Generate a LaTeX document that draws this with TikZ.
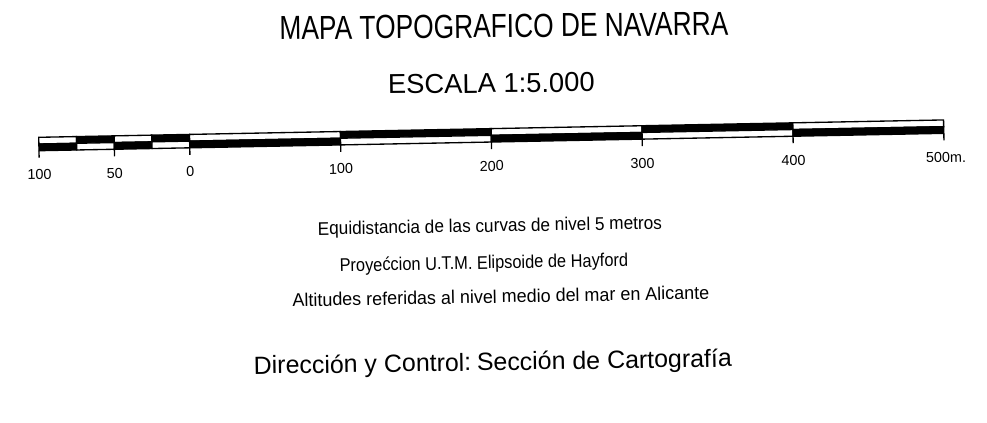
\documentclass[tikz,border=0pt]{standalone}
\usepackage{fontspec}
\setmainfont{Liberation Sans}
\newfontfamily\narrowfont[FakeStretch=0.79]{Liberation Sans}
\newfontfamily\equidfont[FakeStretch=0.935]{Liberation Sans}
\newfontfamily\proyfont[FakeStretch=0.89]{Liberation Sans}
\newfontfamily\altitfont[FakeStretch=0.975]{Liberation Sans}

\tikzset{every picture/.style={line width=0.75pt}}
\tikzset{
  textnode/.style={anchor=base,inner sep=0.75pt},
  scalelabel/.style={anchor=base,inner sep=0.75pt,rotate=1.1,font=\fontsize{10.8}{13}\selectfont}
}

\begin{document}
\begin{tikzpicture}[x=0.75pt,y=0.75pt,yscale=-1,xscale=1]
\useasboundingbox (0,0) rectangle (987,422);

% Text Node
\draw (504,37.5) node [textnode,rotate=0.63,font=\narrowfont\fontsize{25}{30}\selectfont] (title) {MAPA TOPOGRAFICO DE NAVARRA};
% Text Node
\draw (491.5,92.8) node [textnode,rotate=0.65,font=\fontsize{20.5}{24}\selectfont] (escala) {ESCALA 1:5.000};

%Shape: Scale bar
\begin{scope}[shift={(39,150.7)},rotate=-1.1,line width=1pt]
\foreach \xa/\xb/\ct/\cb in {0/37.7/white/black,37.7/75.4/black/white,75.4/113.1/white/black,113.1/150.8/black/white,150.8/301.7/white/black,301.7/452.5/black/white,452.5/603.3/white/black,603.3/754.2/black/white,754.2/905/white/black}{
  \draw[fill=\ct] (\xa,-13.4) rectangle (\xb,-6.7);
  \draw[fill=\cb] (\xa,-6.7) rectangle (\xb,0);
}
%Ticks
\foreach \t in {0,75.4,150.8,301.7,452.5,603.3,754.2,905}
  \draw (\t,0) -- (\t,7);
% Text Node
\foreach \t/\lab [count=\i] in {0/100,75.4/50,150.8/0,301.7/100,452.5/200,603.3/300,754.2/400}
  \draw (\t,29) node [scalelabel] (lbl\i) {\lab};
% Text Node
\draw (885,29) node [scalelabel,anchor=base west] (lblend) {500m.};
\end{scope}

% Text Node
\draw (490,232) node [textnode,rotate=1,font=\equidfont\fontsize{13.8}{16}\selectfont] (equid) {Equidistancia de las curvas de nivel 5 metros};
% Text Node
\draw (484,268.9) node [textnode,rotate=1.1,font=\proyfont\fontsize{13.8}{16}\selectfont] (proyec) {Proye\'ccion U.T.M. Elipsoide de Hayford};
% Text Node
\draw (501,302.9) node [textnode,rotate=1.05,font=\altitfont\fontsize{13.8}{16}\selectfont] (altit) {Altitudes referidas al nivel medio del mar en Alicante};
% Text Node
\draw (493,370.5) node [textnode,rotate=0.9,font=\fontsize{18.7}{22}\selectfont] (direc) {Dirección y Control:\kern-1pt\ Sección de Cartografía};

\end{tikzpicture}
\end{document}
